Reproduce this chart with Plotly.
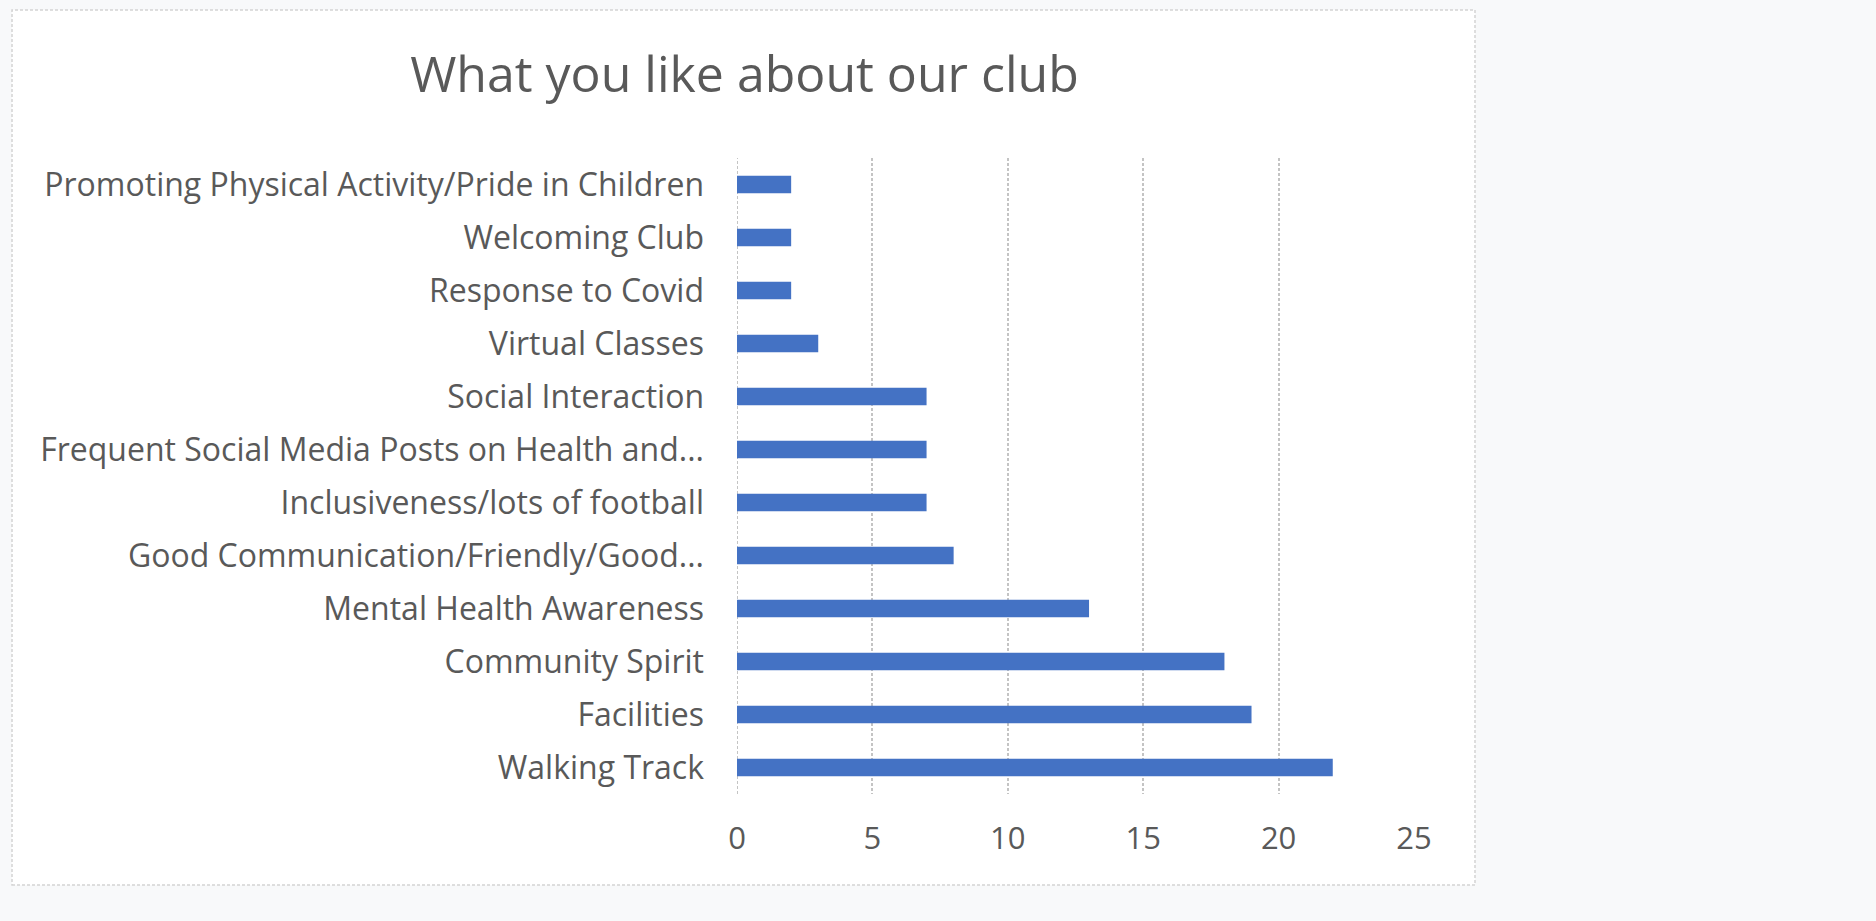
import plotly.graph_objects as go

categories = [
    "Walking Track",
    "Facilities",
    "Community Spirit",
    "Mental Health Awareness",
    "Good Communication/Friendly/Good...",
    "Inclusiveness/lots of football",
    "Frequent Social Media Posts on Health and...",
    "Social Interaction",
    "Virtual Classes",
    "Response to Covid",
    "Welcoming Club",
    "Promoting Physical Activity/Pride in Children",
]
values = [22, 19, 18, 13, 8, 7, 7, 7, 3, 2, 2, 2]
x_ticks = [0, 5, 10, 15, 20, 25]
title_text = "What you like about our club"

W, H = 1876, 921
L, R, T, B = 737, 1414, 158, 794
pw, ph = R - L, B - T

def px(x):
    return (x - L) / pw

def py(y):
    return (B - y) / ph

FONT = "Open Sans"
TXT = "#595959"
GRID = "#c4c4c4"

fig = go.Figure(
    go.Bar(
        x=values,
        y=categories,
        orientation="h",
        marker=dict(color="#4472C4", line=dict(width=0)),
        hoverinfo="x+y",
    )
)

fig.update_layout(
    width=W,
    height=H,
    margin=dict(l=L, r=W - R, t=T, b=H - B, pad=0),
    paper_bgcolor="#f8f9fa",
    plot_bgcolor="white",
    bargap=0.67,
    showlegend=False,
    font=dict(family=FONT, color=TXT),
    title=dict(
        text=title_text,
        font=dict(family=FONT, size=50, color=TXT),
        xref="container",
        yref="container",
        x=744.5 / W,
        y=1 - 74 / H,
        xanchor="center",
        yanchor="middle",
    ),
    shapes=[
        dict(
            type="rect",
            xref="paper",
            yref="paper",
            x0=px(12),
            x1=px(1475),
            y0=py(885),
            y1=py(10),
            fillcolor="white",
            line=dict(color="#d4d4d4", width=1.5, dash="3px,2px"),
            layer="below",
        ),
        dict(
            type="line",
            xref="x",
            yref="paper",
            x0=x_ticks[0],
            x1=x_ticks[0],
            y0=0,
            y1=1,
            line=dict(color=GRID, width=2, dash="3px,2px"),
            layer="below",
        ),
    ],
)

fig.update_xaxes(
    range=[0, 25],
    tickvals=x_ticks,
    showgrid=True,
    gridcolor=GRID,
    gridwidth=2,
    griddash="3px,2px",
    zeroline=False,
    showline=False,
    ticks="",
    ticklabelstandoff=23,
    tickfont=dict(family=FONT, size=31, color=TXT),
    fixedrange=True,
)

fig.update_yaxes(
    categoryorder="array",
    categoryarray=categories,
    showgrid=False,
    zeroline=False,
    showline=False,
    ticks="",
    ticklabelstandoff=32,
    tickfont=dict(family=FONT, size=32, color=TXT),
    fixedrange=True,
)

fig.write_html("out.html")
